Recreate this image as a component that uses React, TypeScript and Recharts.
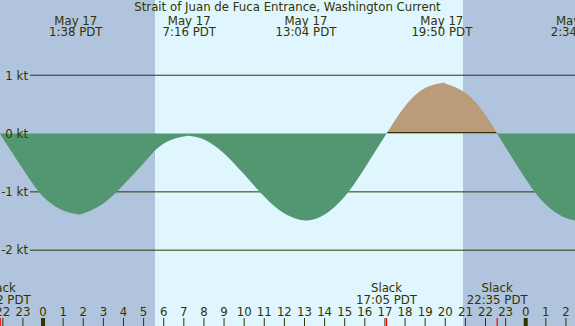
import { Area, CartesianGrid, ComposedChart, XAxis, YAxis } from "recharts";

const W = 575;
const H = 326;
const INK = "#333300";
const NIGHT = "#b0c4de";
const DAY = "#dff6fe";
const FONT = "'DejaVu Sans', sans-serif";

// hours from midnight May 17 PDT (negative = May 16, above 24 = May 18)
const times = [-2.13, -2, -1, 0, 1, 1.63, 2, 3, 4, 5, 6, 7, 7.27, 8, 9, 10, 11, 12, 13.07, 14, 15, 16, 17.08, 18, 19, 19.83, 20, 21, 22, 22.58, 23, 24, 25, 26, 26.57];
// current in knots, flood positive
const speeds = [0, -0.08, -0.61, -1.08, -1.32, -1.38, -1.37, -1.2, -0.88, -0.51, -0.17, -0.05, -0.04, -0.1, -0.34, -0.7, -1.08, -1.37, -1.49, -1.39, -1.08, -0.59, 0, 0.47, 0.78, 0.866, 0.86, 0.7, 0.32, 0, -0.24, -0.78, -1.22, -1.45, -1.49];

const peakTimes = [1.63, 7.27, 13.07, 19.83, 26.57];
const peakDates = ["May 17", "May 17", "May 17", "May 17", "May 18"];
const peakLabels = ["1:38", "7:16", "13:04", "19:50", "2:34"];

const slackTimes = [-2.13, 17.08, 22.58];
const slackLabels = ["21:52", "17:05", "22:35"];

const hourTicks = [-2, -1, 0, 1, 2, 3, 4, 5, 6, 7, 8, 9, 10, 11, 12, 13, 14, 15, 16, 17, 18, 19, 20, 21, 22, 23, 24, 25, 26];
const ktTicks = [1, 0, -1, -2];
const gridKt = [1, -1, -2];

// sunrise 5:34, sunset 20:53
const sunTimes = [5.57, 20.88];

const xDomain: [number, number] = [-2.14, 26.45];
const yDomain: [number, number] = [-3.3, 2.29];

const data = times.map((t, i) => ({ t, v: speeds[i] }));
const vMax = Math.max(...speeds);
const vMin = Math.min(...speeds);
const split = vMax / (vMax - vMin);
// one pixel of the area's box, for the zero line drawn under the flood fill edge
const band = 1 / ((vMax - vMin) * (H / (yDomain[1] - yDomain[0])));

const txt = { fill: INK, fontSize: 11.75, fontFamily: FONT };

function BottomTick(props: any) {
  const { x, payload } = props;
  const v = payload.value;
  const si = slackTimes.indexOf(v);
  if (si >= 0) {
    return (
      <g>
        <line x1={x} x2={x} y1={H - 8} y2={H} stroke="#ff0000" strokeWidth={1.2} />
        <text x={x} y={H - 34.5} textAnchor="middle" {...txt}>Slack</text>
        <text x={x} y={H - 22} textAnchor="middle" {...txt}>{slackLabels[si]} PDT</text>
      </g>
    );
  }
  const hr = ((v % 24) + 24) % 24;
  return (
    <g>
      {hr === 0 ? (
        <rect x={x - 2} y={H - 8} width={4} height={8} fill={INK} />
      ) : (
        <line x1={x} x2={x} y1={H - 8} y2={H} stroke={INK} strokeWidth={1} />
      )}
      <text x={x} y={H - 10} textAnchor="middle" {...txt}>{hr}</text>
    </g>
  );
}

function TopTick(props: any) {
  const { x, payload } = props;
  const i = peakTimes.indexOf(payload.value);
  return (
    <g>
      <text x={x} y={24.5} textAnchor="middle" {...txt}>{peakDates[i]}</text>
      <text x={x} y={36} textAnchor="middle" {...txt}>{peakLabels[i]} PDT</text>
    </g>
  );
}

function KtTick(props: any) {
  const { y, payload } = props;
  return (
    <text x={28} y={y + 4.3} textAnchor="end" {...txt}>
      {payload.value} kt
    </text>
  );
}

// grid line that leaves room for the kt label on the left
function GridLine(props: any) {
  const { x1, y1, x2, y2, index } = props;
  return <line key={`h${index}`} x1={x1 + 30} y1={y1} x2={x2} y2={y2} stroke={INK} strokeWidth={1} />;
}

function NoLine(props: any) {
  return <g key={`v${props.index}`} />;
}

export default function App() {
  return (
    <div style={{ position: "absolute", left: 0, top: 0, width: W, height: H, background: DAY, overflow: "hidden" }}>
      <ComposedChart width={W} height={H} data={data} margin={{ top: 0, right: 0, bottom: 0, left: 0 }}>
        <defs>
          <linearGradient id="flood" x1="0" y1="0" x2="0" y2="1">
            <stop offset={split - band} stopColor="#bc9b7b" stopOpacity={1} />
            <stop offset={split - band} stopColor={INK} stopOpacity={1} />
            <stop offset={split} stopColor={INK} stopOpacity={1} />
            <stop offset={split} stopColor="#bc9b7b" stopOpacity={0} />
          </linearGradient>
          <linearGradient id="ebb" x1="0" y1="0" x2="0" y2="1">
            <stop offset={split} stopColor="#529672" stopOpacity={0} />
            <stop offset={split} stopColor="#529672" stopOpacity={1} />
          </linearGradient>
        </defs>
        <CartesianGrid
          horizontalValues={gridKt}
          verticalValues={sunTimes}
          verticalFill={[NIGHT, DAY, NIGHT]}
          fillOpacity={1}
          horizontal={GridLine}
          vertical={NoLine}
        />
        <XAxis dataKey="t" type="number" domain={xDomain} allowDataOverflow ticks={[...hourTicks, ...slackTimes]} interval={0} mirror axisLine={false} tickLine={false} tick={BottomTick} />
        <XAxis xAxisId="top" dataKey="t" orientation="top" type="number" domain={xDomain} allowDataOverflow ticks={peakTimes} interval={0} mirror axisLine={false} tickLine={false} tick={TopTick} />
        <YAxis type="number" domain={yDomain} allowDataOverflow ticks={ktTicks} interval={0} mirror axisLine={false} tickLine={false} tick={KtTick} />
        <Area dataKey="v" type="natural" fill="url(#flood)" fillOpacity={1} stroke="none" isAnimationActive={false} />
        <Area dataKey="v" type="natural" fill="url(#ebb)" fillOpacity={1} stroke="none" isAnimationActive={false} />
      </ComposedChart>
      <div style={{ position: "absolute", left: 0, top: 0, width: W, textAlign: "center", fontFamily: FONT, fontSize: 11.75, lineHeight: "15px", color: INK }}>
        Strait of Juan de Fuca Entrance, Washington Current
      </div>
    </div>
  );
}
